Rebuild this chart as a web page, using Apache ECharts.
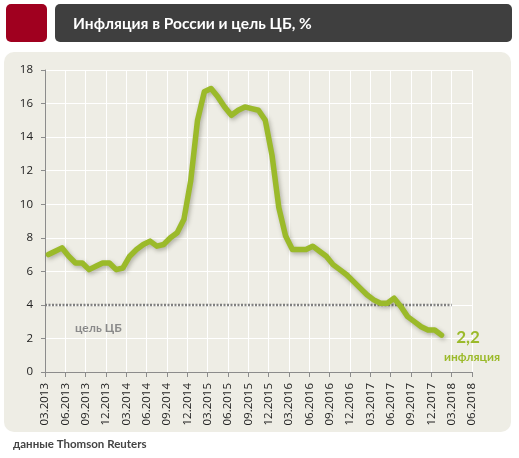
<!DOCTYPE html>
<html>
<head>
<meta charset="utf-8">
<script src="https://cdn.jsdelivr.net/npm/echarts@6/dist/echarts.min.js"></script>
<style>
html,body{margin:0;padding:0;background:#fff;}
#chart{width:519px;height:458px;}
</style>
</head>
<body>
<div id="chart"></div>
<script>
const titleText = "Инфляция в России и цель ЦБ, %";
const sourceText = "данные Thomson Reuters";
const targetLabel = "цель ЦБ";
const seriesLabel = "инфляция";

const xTickLabels = ["03.2013","06.2013","09.2013","12.2013","03.2014","06.2014","09.2014","12.2014",
  "03.2015","06.2015","09.2015","12.2015","03.2016","06.2016","09.2016","12.2016",
  "03.2017","06.2017","09.2017","12.2017","03.2018","06.2018"];
const yTicks = [0,2,4,6,8,10,12,14,16,18];

const months = ["03.2013","04.2013","05.2013","06.2013","07.2013","08.2013","09.2013","10.2013","11.2013","12.2013",
  "01.2014","02.2014","03.2014","04.2014","05.2014","06.2014","07.2014","08.2014","09.2014","10.2014","11.2014","12.2014",
  "01.2015","02.2015","03.2015","04.2015","05.2015","06.2015","07.2015","08.2015","09.2015","10.2015","11.2015","12.2015",
  "01.2016","02.2016","03.2016","04.2016","05.2016","06.2016","07.2016","08.2016","09.2016","10.2016","11.2016","12.2016",
  "01.2017","02.2017","03.2017","04.2017","05.2017","06.2017","07.2017","08.2017","09.2017","10.2017","11.2017","12.2017",
  "01.2018"];
const inflation = [7.0,7.2,7.4,6.9,6.5,6.5,6.1,6.3,6.5,6.5,
  6.1,6.2,6.9,7.3,7.6,7.8,7.5,7.6,8.0,8.3,9.1,11.4,
  15.0,16.7,16.9,16.4,15.8,15.3,15.6,15.8,15.7,15.6,15.0,12.9,
  9.8,8.1,7.3,7.3,7.3,7.5,7.2,6.9,6.4,6.1,5.8,5.4,
  5.0,4.6,4.3,4.1,4.1,4.4,3.9,3.3,3.0,2.7,2.5,2.5,
  2.2];
const lastValueText = "2,2";

const targetMonths = ["03.2013","03.2018"];
const targetValues = [4,4];

function monthIndex(s){
  const p = s.split(".");
  return (parseInt(p[1],10)-2013)*12 + (parseInt(p[0],10)-3);
}
// monthly observations sit mid-month on the date axis
const lineData = months.map((m,i)=>[monthIndex(m)+0.5, inflation[i]]);
const targetData = targetMonths.map((m,i)=>[monthIndex(m), targetValues[i]]);

const GREEN = "#9bba2a";
const chart = echarts.init(document.getElementById("chart"), null, {renderer:"canvas"});
const option = {
  animation:false,
  backgroundColor:"#ffffff",
  grid:{left:45,right:47,top:70,bottom:86},
  xAxis:{
    type:"value", min:0, max:monthIndex(xTickLabels[xTickLabels.length-1]), interval:3,
    axisLine:{show:true,lineStyle:{color:"#8c8c8c",width:1}},
    axisTick:{show:true,length:5,lineStyle:{color:"#8c8c8c"}},
    splitLine:{show:true,lineStyle:{color:"#ffffff",width:1}},
    axisLabel:{rotate:90,margin:11,fontFamily:"Open Sans",fontSize:11.5,color:"#222",
      formatter:function(v){return xTickLabels[Math.round(v/3)]||"";}}
  },
  yAxis:{
    type:"value", min:yTicks[0], max:yTicks[yTicks.length-1], interval:2,
    axisLine:{show:true,lineStyle:{color:"#8c8c8c",width:1}},
    axisTick:{show:true,length:4,lineStyle:{color:"#8c8c8c"}},
    splitLine:{show:true,lineStyle:{color:"#ffffff",width:1}},
    axisLabel:{margin:12,fontFamily:"Open Sans",fontSize:11.5,color:"#222"}
  },
  series:[
    {type:"line",name:targetLabel,data:targetData,symbol:"none",z:2,
      lineStyle:{color:"#808080",width:2.5,type:[2,1.5]}},
    {type:"line",name:seriesLabel,data:lineData,symbol:"none",z:3,
      lineStyle:{color:GREEN,width:5.5,cap:"round",join:"round",
        shadowColor:"rgba(60,60,40,0.35)",shadowBlur:4,shadowOffsetX:1.5,shadowOffsetY:2}}
  ],
  graphic:[
    {type:"rect",z:-10,shape:{x:4,y:52,width:507,height:380,r:10},style:{fill:"#eeede5"}},
    {type:"rect",z:50,shape:{x:6,y:4,width:41,height:38,r:5},style:{fill:"#a0001f"}},
    {type:"rect",z:50,shape:{x:55,y:4,width:457,height:38,r:5},style:{fill:"#3f3f3f"}},
    {type:"text",z:100,x:73,y:24,style:{text:titleText,fill:"#ffffff",font:"bold 15.5px Lato",textVerticalAlign:"middle"}},
    {type:"text",z:100,x:75,y:328,style:{text:targetLabel,fill:"#8a8a8a",font:"bold 12px Lato",textVerticalAlign:"middle"}},
    {type:"text",z:100,x:468,y:338,style:{text:lastValueText,fill:GREEN,font:"bold 17px Lato",textAlign:"center",textVerticalAlign:"middle"}},
    {type:"text",z:100,x:472,y:357,style:{text:seriesLabel,fill:GREEN,font:"bold 12px Lato",textAlign:"center",textVerticalAlign:"middle"}},
    {type:"text",z:100,x:13,y:444,style:{text:sourceText,fill:"#444444",font:"bold 11.5px Lato",textVerticalAlign:"middle"}}
  ]
};
chart.setOption(option);
</script>
</body>
</html>
